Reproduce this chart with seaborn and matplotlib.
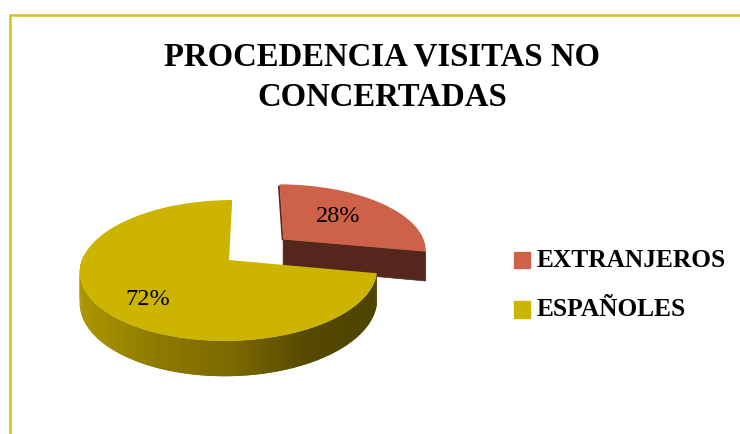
import numpy as np
import matplotlib
matplotlib.use("Agg")
import matplotlib.pyplot as plt
import matplotlib.transforms as mtransforms
import seaborn as sns

# datos
categories = ["EXTRANJEROS", "ESPAÑOLES"]
values = [28, 72]

# colores
top_colors = ["#CE6249", "#CCB400"]
face_color = "#54261C"
border_color = "#D6C01A"
rim_stops = ["#AB9600", "#8E7A00", "#7C6900", "#564A00", "#4D4300"]

# perspectiva de la tarta (en pixeles)
CX, CY = 229, 261
A, B, K = 68.9, 147, 0.149
SHEAR = 0.025
DEPTH = 30


def project(u, v):
    u = np.asarray(u, dtype=float)
    v = np.asarray(v, dtype=float)
    w = 1 + K * v
    return CX + B * (u + SHEAR * v) / w, CY - A * v / w


class Perspective(mtransforms.Transform):
    input_dims = 2
    output_dims = 2

    def transform_non_affine(self, values):
        x, y = project(values[:, 0], values[:, 1])
        return np.column_stack([x, y])


def side_quad(u, v):
    # cara lateral: el borde bajado segun la profundidad
    x, y = project(u, v)
    d = DEPTH / (1 + K * np.asarray(v))
    return np.r_[x, x[::-1]], np.r_[y, (y + d)[::-1]]


sns.set_theme(style="white")
plt.rcParams["font.family"] = ["Liberation Serif", "DejaVu Serif"]

fig = plt.figure(figsize=(7.4, 4.35), dpi=100)
ax = fig.add_axes([0, 0, 1, 1])

wedges, texts, autotexts = ax.pie(
    values,
    colors=top_colors,
    explode=[0.49, 0],
    startangle=90,
    counterclock=False,
    autopct="%.0f%%",
    pctdistance=0.68,
    wedgeprops={"linewidth": 0},
)
ax.set_aspect("auto")
ax.set_xlim(0, 740)
ax.set_ylim(435, 0)
ax.set_axis_off()

persp = Perspective() + ax.transData
for wedge in wedges:
    wedge.set_transform(persp)

red, yellow = wedges

# cara oscura del trozo separado
ang = np.radians([red.theta1, red.theta2])
cu, cv = red.center
u_edge = np.array([cu, cu + red.r * np.cos(ang[0])])
v_edge = np.array([cv, cv + red.r * np.sin(ang[0])])
ax.fill(*side_quad(u_edge, v_edge), color=face_color, lw=0.5, zorder=1)
lx, ly = project([cu, cu + red.r * np.cos(ang[1])], [cv, cv + red.r * np.sin(ang[1])])
ax.plot(lx - 0.5, ly + np.array([0, 2]), color=face_color, lw=1.4, zorder=1)
red.set_zorder(2)

# lateral con degradado del trozo grande
rim_theta = np.radians(np.linspace(-185, yellow.theta2, 160))
rim_u = yellow.r * np.cos(rim_theta)
rim_v = yellow.r * np.sin(rim_theta)
rim_x, _ = project(rim_u, rim_v)
palette = sns.blend_palette(rim_stops, 101)
for i in range(len(rim_theta) - 1):
    frac = (rim_x[i] - rim_x.min()) / (rim_x.max() - rim_x.min())
    ax.fill(*side_quad(rim_u[i:i + 3], rim_v[i:i + 3]),
            color=palette[int(frac * 100)], lw=0, zorder=3)
yellow.set_zorder(4)

# porcentajes
label_nudge = [(-13, 2), (3, 7)]
for t, (dx, dy) in zip(autotexts, label_nudge):
    px, py = project(*t.get_position())
    t.set_position((float(px) + dx, float(py) + dy))
    t.set_fontsize(17.5)
    t.set_color("black")
    t.set_zorder(6)

# marco superior e izquierdo
ax.plot([9.5, 9.5, 740], [435, 16, 16], color=border_color, lw=1.8, zorder=0,
        solid_joinstyle="miter")

ax.text(382, 57, "PROCEDENCIA VISITAS NO", ha="center", va="center",
        fontsize=23.6, fontweight="bold", color="black")
ax.text(382, 98, "CONCERTADAS", ha="center", va="center",
        fontsize=23.6, fontweight="bold", color="black")

handles = [plt.Rectangle((0, 0), 1, 1, color=c) for c in top_colors]
leg = ax.legend(handles, categories, loc="upper left", bbox_to_anchor=(514 / 740, 1 - 252 / 435),
                frameon=False, ncol=1, prop={"weight": "bold", "size": 18.3},
                labelcolor="black",
                handlelength=0.63, handleheight=0.63, handletextpad=0.25,
                labelspacing=1.03, borderpad=0, borderaxespad=0)
for t in leg.get_texts():
    t.set_y(3)

fig.savefig("out.png", dpi=100)
